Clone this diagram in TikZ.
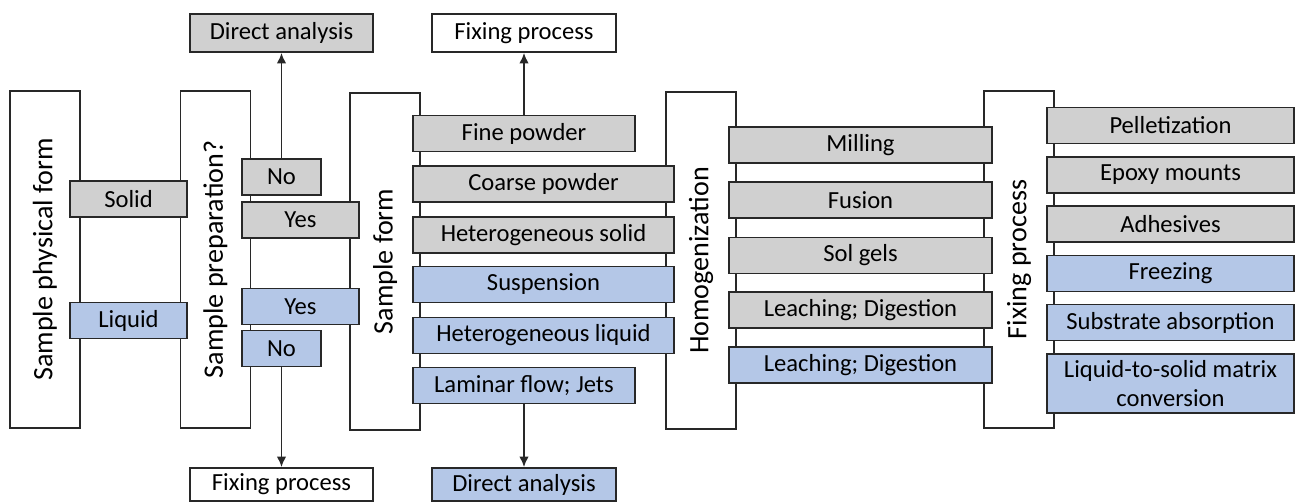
\documentclass[tikz,border=0pt]{standalone}
\usepackage{fontspec}
\setmainfont{Carlito}
\usetikzlibrary{arrows.meta, positioning}
\definecolor{solidgray}{RGB}{208,208,208}
\definecolor{liquidblue}{RGB}{180,199,231}
\definecolor{edgegray}{RGB}{40,40,40}

\begin{document}
\begin{tikzpicture}[
        x=0.02cm, y=-0.02cm,
        every node/.style={draw=edgegray, line width=1pt, inner sep=0pt},
        column/.style={
            fill=white, rotate=90,
            minimum width=6.74cm, minimum height=1.4cm,
            font=\fontsize{16}{19}\selectfont,
        },
        item/.style={
            minimum height=0.72cm,
            font=\fontsize{14}{17}\selectfont, align=center,
        },
        solid item/.style={item, fill=solidgray},
        liquid item/.style={item, fill=liquidblue},
        white item/.style={item, fill=white},
        flow/.style={draw=edgegray, line width=1.1pt, -{Latex[length=6pt, width=5.5pt]}},
    ]
        \useasboundingbox (0,0) rectangle (1297,502);

        % stage columns
        \node[column] (physform) at (45,259.5) {Sample physical form};
        \node[column] (prep) at (215.5,259.5) {Sample preparation?};
        \node[column] (form) at (385,261.5) {Sample form};
        \node[column] (homog) at (701,260.5) {Homogenization};
        \node[column] (fixing) at (1019,259.5) {Fixing process};

        % physical form
        \node[solid item, minimum width=2.34cm] (solid) at (128.5,199) {Solid};
        \node[liquid item, minimum width=2.34cm] (liquid) at (128.5,320.5) {Liquid};

        % preparation
        \node[solid item, minimum width=1.58cm] (notop) at (281.5,177) {No};
        \node[solid item, minimum width=2.34cm] (yestop) at (300.5,220) {Yes};
        \node[liquid item, minimum width=2.34cm] (yesbot) at (300.5,306.5) {Yes};
        \node[liquid item, minimum width=1.58cm] (nobot) at (281.5,348.5) {No};
        \node[solid item, minimum width=3.66cm, minimum height=0.76cm] (directtop) at (281.5,33) {Direct analysis};
        \node[white item, minimum width=3.66cm, minimum height=0.66cm] (fixbot) at (281.5,484.5) {Fixing process};

        % sample form
        \node[solid item, minimum width=4.44cm] (fine) at (524,133.5) {Fine powder};
        \node[solid item, minimum width=5.22cm] (coarse) at (543.5,184) {Coarse powder};
        \node[solid item, minimum width=5.22cm] (hetsolid) at (543.5,235) {Heterogeneous solid};
        \node[liquid item, minimum width=5.22cm] (suspension) at (543.5,284.5) {Suspension};
        \node[liquid item, minimum width=5.22cm] (hetliquid) at (543.5,335.5) {Heterogeneous liquid};
        \node[liquid item, minimum width=4.44cm] (laminar) at (524,385.5) {Laminar flow; Jets};
        \node[white item, minimum width=3.68cm, minimum height=0.76cm] (fixtop) at (524,33) {Fixing process};
        \node[liquid item, minimum width=3.68cm, minimum height=0.66cm] (directbot) at (524,484.5) {Direct analysis};

        % homogenization
        \node[solid item, minimum width=5.26cm] (milling) at (860.5,145) {Milling};
        \node[solid item, minimum width=5.26cm] (fusion) at (860.5,200) {Fusion};
        \node[solid item, minimum width=5.26cm] (solgel) at (860.5,255.5) {Sol gels};
        \node[solid item, minimum width=5.26cm] (leachsolid) at (860.5,310) {Leaching; Digestion};
        \node[liquid item, minimum width=5.26cm] (leachliquid) at (860.5,365) {Leaching; Digestion};

        % fixing
        \node[solid item, minimum width=4.94cm] (pellet) at (1170.5,125.5) {Pelletization};
        \node[solid item, minimum width=4.94cm] (epoxy) at (1170.5,175) {Epoxy mounts};
        \node[solid item, minimum width=4.94cm] (adhesive) at (1170.5,224) {Adhesives};
        \node[liquid item, minimum width=4.94cm] (freezing) at (1170.5,273.5) {Freezing};
        \node[liquid item, minimum width=4.94cm] (substrate) at (1170.5,322.5) {Substrate absorption};
        \node[liquid item, minimum width=4.94cm, minimum height=1.18cm] (matrix) at (1170.5,383.5) {Liquid-to-solid matrix\\conversion};

        % exits
        \draw[flow] (notop) -- (directtop);
        \draw[flow] (nobot) -- (fixbot);
        \draw[flow] (fine) -- (fixtop);
        \draw[flow] (laminar) -- (directbot);
\end{tikzpicture}
\end{document}
